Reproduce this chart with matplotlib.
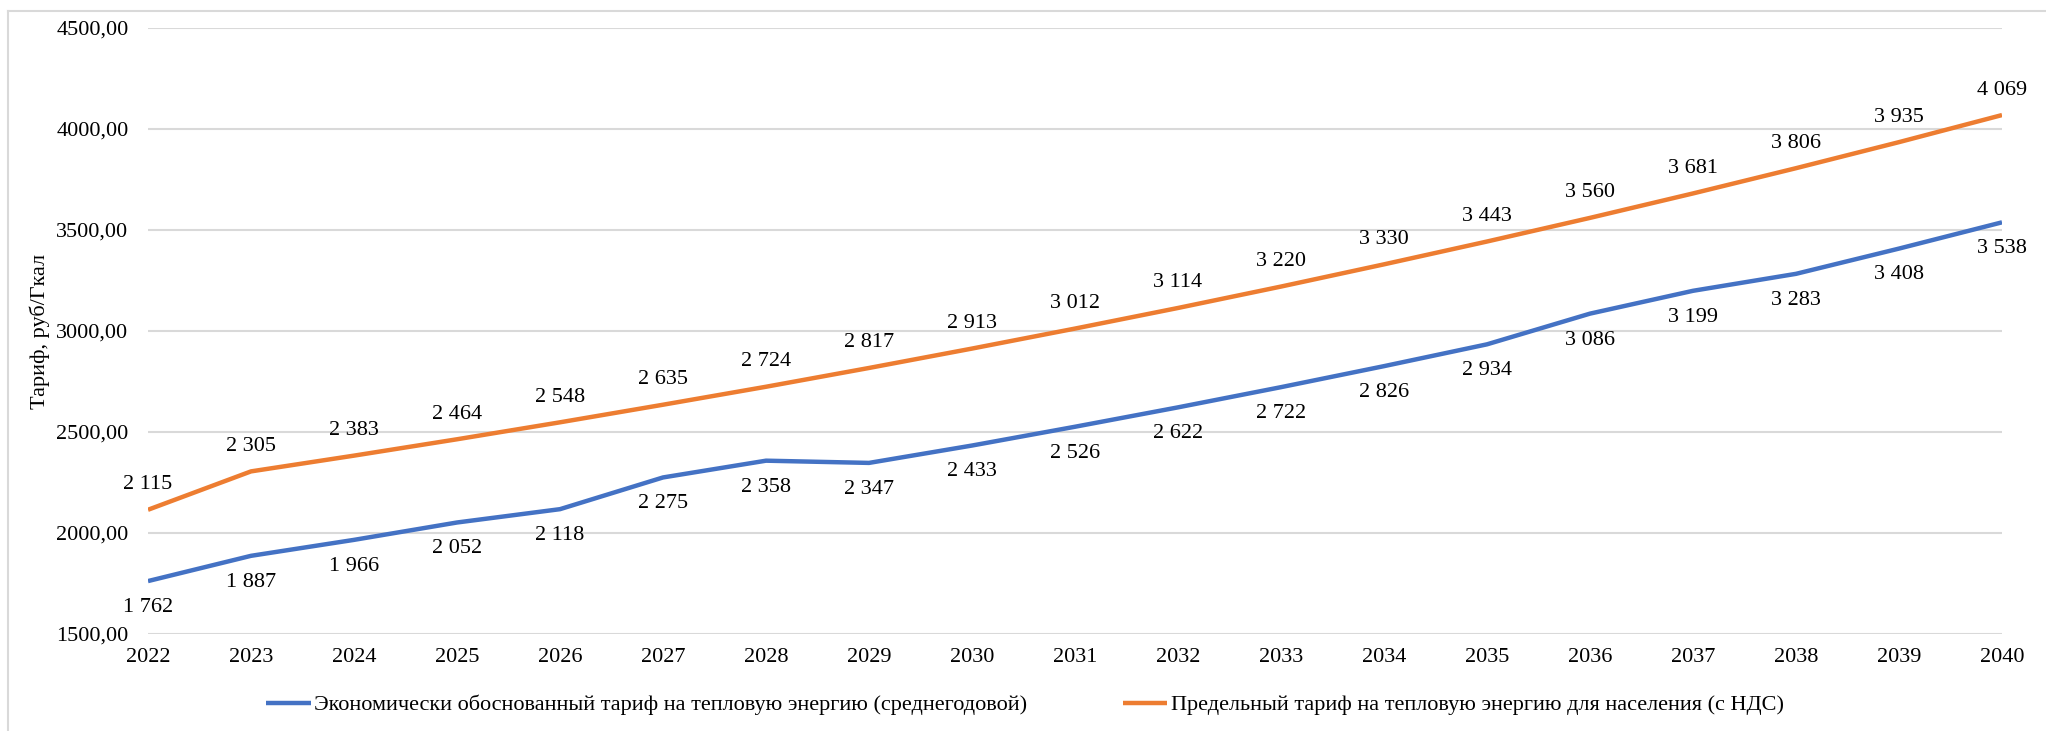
# coding=utf-8
"""Тарифы на тепловую энергию, 2022-2040."""

import matplotlib
matplotlib.use("Agg")
import matplotlib.pyplot as plt
from matplotlib.lines import Line2D
from matplotlib.ticker import FuncFormatter, MultipleLocator

years = [str(y) for y in range(2022, 2041)]
econ_tariff = [1762, 1887, 1966, 2052, 2118, 2275, 2358, 2347, 2433, 2526,
               2622, 2722, 2826, 2934, 3086, 3199, 3283, 3408, 3538]
limit_tariff = [2115, 2305, 2383, 2464, 2548, 2635, 2724, 2817, 2913, 3012,
                3114, 3220, 3330, 3443, 3560, 3681, 3806, 3935, 4069]
econ_label = "Экономически обоснованный тариф на тепловую энергию (среднегодовой)"
limit_label = "Предельный тариф на тепловую энергию для населения (с НДС)"
y_label = "Тариф, руб/Гкал"

BLUE = "#4472C4"
ORANGE = "#ED7D31"
GRID = "#D9D9D9"

plt.rcParams["font.family"] = ["Liberation Serif", "DejaVu Serif"]
plt.rcParams["font.size"] = 16

W, H = 2046, 731
fig = plt.figure(figsize=(W / 100, H / 100), dpi=100)
ax = fig.add_axes([148 / W, 1 - 634 / H, (2002 - 148) / W, (634 - 28) / H])

# outer chart frame (left and top edges visible)
fig.add_artist(Line2D([8 / W, 8 / W], [0, 1 - 11 / H], color=GRID, lw=1.5))
fig.add_artist(Line2D([8 / W, 1], [1 - 11 / H, 1 - 11 / H], color=GRID, lw=1.5))

x = list(range(len(years)))
ax.plot(x, econ_tariff, color=BLUE, lw=3.2, solid_capstyle="butt",
        label=econ_label, zorder=3)
ax.plot(x, limit_tariff, color=ORANGE, lw=3.2, solid_capstyle="butt",
        label=limit_label, zorder=3)


def fmt_thousands(v):
    return f"{v:,}".replace(",", " ")


for xi, v in zip(x, limit_tariff):
    ax.annotate(fmt_thousands(v), (xi, v), xytext=(0, 18),
                textcoords="offset points", ha="center", va="center")
for xi, v in zip(x, econ_tariff):
    ax.annotate(fmt_thousands(v), (xi, v), xytext=(0, -19),
                textcoords="offset points", ha="center", va="center")

ax.set_xlim(0, len(years) - 1)
ax.set_ylim(1500, 4500)
ax.set_xticks(x)
ax.set_xticklabels(years)
ax.yaxis.set_major_locator(MultipleLocator(500))
ax.yaxis.set_major_formatter(FuncFormatter(lambda v, _: f"{v:.2f}".replace(".", ",")))
ax.tick_params(axis="both", length=0)
ax.tick_params(axis="y", pad=14)
ax.tick_params(axis="x", pad=10)
ax.grid(axis="y", color=GRID, lw=1.5)
ax.set_axisbelow(True)
for spine in ax.spines.values():
    spine.set_visible(False)

ax.set_ylabel(y_label)
ax.yaxis.label.set_va("center")
ax.yaxis.set_label_coords((40 - 148) / (2002 - 148), 0.5)

fig.legend(loc="center", bbox_to_anchor=(1025 / W, 1 - 705 / H), ncol=2,
           frameon=False, handlelength=2.0, handletextpad=0.15,
           columnspacing=4.3)

fig.savefig("out.png", dpi=100)
